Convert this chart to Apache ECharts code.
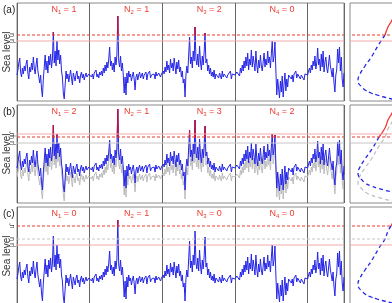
<!DOCTYPE html>
<html>
<head>
<meta charset="utf-8">
<script src="https://cdn.jsdelivr.net/npm/echarts@6/dist/echarts.min.js"></script>
<style>
html, body { margin: 0; padding: 0; background: #fff; }
#chart { width: 392px; height: 303px; }
</style>
</head>
<body>
<div id="chart"></div>
<script>
// sea level record (arbitrary units), 80 samples per year, 4.5 years
var seaLevel = [
    26, 31, 38, 43, 29, 24, 33, 27, 35, 30,
    37, 41, 28, 22, 34, 29, 38, 31, 44, 33,
    27, 36, 43, 30, 24, 18, 26, 12, 4, 22,
    34, 46, 31, 40, 28, 45, 36, 47, 33, 42,
    69, 38, 50, 35, 60, 41, 51, 37, 46, 30,
    24, 8, 2, 16, 30, 22, 27, 19, 25, 31,
    23, 16, 28, 24, 20, 27, 30, 22, 25, 18,
    26, 29, 23, 27, 21, 25, 28, 24, 22, 27,
    25, 29, 24, 27, 22, 28, 26, 31, 24, 27,
    23, 29, 26, 30, 25, 33, 28, 36, 30, 39,
    33, 42, 54, 35, 40, 31, 38, 29, 44, 36,
    46, 85, 40, 34, 45, 30, 38, 26, 8, 24,
    6, 28, 18, 30, 24, 27, 20, 25, 29, 22,
    11, 24, 27, 21, 26, 29, 23, 25, 28, 22,
    26, 24, 29, 21, 27, 25, 30, 23, 26, 28,
    24, 27, 22, 29, 25, 23, 28, 26, 24, 27,
    25, 30, 27, 34, 29, 40, 31, 36, 28, 42,
    33, 38, 30, 43, 35, 27, 39, 32, 41, 29,
    34, 24, 30, 18, 22, 4, 26, 35, 28, 46,
    64, 37, 44, 33, 50, 40, 74, 42, 36, 47,
    34, 55, 39, 31, 45, 36, 48, 68, 38, 42,
    30, 36, 27, 33, 25, 29, 24, 31, 22, 27,
    25, 29, 23, 28, 26, 22, 30, 24, 27, 25,
    29, 23, 26, 28, 24, 30, 22, 27, 25, 28,
    26, 24, 29, 27, 31, 25, 33, 28, 36, 30,
    40, 33, 44, 35, 48, 31, 42, 36, 51, 34,
    45, 38, 30, 50, 36, 28, 41, 33, 46, 35,
    30, 39, 48, 34, 42, 36, 50, 38, 44, 33,
    47, 60, 39, 45, 59, 30, 6, 22, 12, 3,
    20, 9, 25, 4, 17, 28, 10, 22, 14, 26,
    24, 28, 22, 26, 19, 27, 25, 30, 23, 27,
    25, 29, 22, 26, 24, 28, 21, 27, 25, 29,
    26, 30, 33, 28, 36, 31, 40, 35, 45, 32,
    38, 53, 36, 42, 30, 47, 34, 50, 29, 39,
    44, 33, 28, 37, 46, 35, 30, 24, 33, 18,
    9, 26, 31, 52, 38, 54, 30, 44, 22, 14,
    28
];
var samplesPerYear = 80;
var rise = 9;        // shift of the record in panel (b)
var mu = 60;         // mean level
var u = 66;          // threshold
var uHigh = 79;      // raised threshold, panel (c)

// distribution of sea level (side panels)
var densLevel = [100, 92, 85, 81, 79, 74, 66, 57, 45, 35, 27, 21, 17, 14, 11, 8, 6, 4, 2, 0];
var densValue = [0.006, 0.011, 0.015, 0.018, 0.019, 0.022, 0.025, 0.031, 0.038, 0.045,
                 0.050, 0.052, 0.051, 0.048, 0.045, 0.039, 0.033, 0.026, 0.018, 0.010];

var panelTags = ['(a)', '(b)', '(c)'];
var exceedCounts = [[1, 1, 2, 0], [2, 1, 3, 2], [0, 1, 0, 0]];

var blue = '#2525e8';
var peakRed = '#c4123a';
var threshRed = '#ec3b30';
var pink = '#f2a9a9';
var lightGray = '#c6c6c6';

var rowTop = [3, 105, 207];
var rowH = 98;

function level(v, color, dashed) {
    return { v: v, color: color, type: dashed ? [3, 2] : 'solid' };
}

var rows = [
    {
        shift: 0, thr: u, ghost: false,
        levels: [level(mu, pink, false), level(u, threshRed, true)],
        ticks: [[u, 'u'], [mu, 'μ']]
    },
    {
        shift: rise, thr: u, ghost: true,
        levels: [level(mu, lightGray, false), level(mu + rise, pink, false), level(u, threshRed, true)],
        ticks: [[mu + rise, "μ'"], [u, 'u'], [mu, 'μ']]
    },
    {
        shift: 0, thr: uHigh, ghost: false,
        levels: [level(mu, pink, false), level(u, lightGray, true), level(uHigh, threshRed, true)],
        ticks: [[uHigh, "u'"], [u, 'u'], [mu, 'μ']]
    }
];

// one flat line series per reference level
function levelSeries(lv, axisIdx, xMax) {
    return {
        type: 'line', xAxisIndex: axisIdx, yAxisIndex: axisIdx, showSymbol: false, silent: true, z: 6,
        lineStyle: { color: lv.color, width: 1, type: lv.type },
        itemStyle: { color: lv.color },
        data: [[0, lv.v], [xMax, lv.v]]
    };
}

function hiddenAxis(extra) {
    var a = { type: 'value', axisLine: { show: false }, axisTick: { show: false },
              axisLabel: { show: false }, splitLine: { show: false } };
    for (var k in extra) a[k] = extra[k];
    return a;
}

var grids = [], xAxes = [], yAxes = [], series = [], graphics = [];

rows.forEach(function(row, r) {
    var gl = grids.length, gr = gl + 1, gp = gl + 2;
    grids.push({ left: 17, top: rowTop[r], width: 327, height: rowH, show: true,
                 outerBoundsMode: 'none', borderColor: '#8a8a8a', borderWidth: 1 });
    grids.push({ left: 350, top: rowTop[r], width: 60, height: rowH, show: true,
                 outerBoundsMode: 'none', borderColor: '#8a8a8a', borderWidth: 1 });
    // upper slice of the left panel, above the threshold: peaks there are drawn red
    grids.push({ left: 17, top: rowTop[r], width: 327, height: rowH - row.thr, show: false,
                 outerBoundsMode: 'none' });

    xAxes.push({
        type: 'value', gridIndex: gl, min: 0, max: 4.5, interval: 1,
        axisLine: { show: false }, axisTick: { show: false }, axisLabel: { show: false },
        splitLine: { show: true, lineStyle: { color: '#666', width: 1 } }
    });
    xAxes.push(hiddenAxis({ gridIndex: gr, min: 0, max: 0.06, inverse: true }));
    xAxes.push(hiddenAxis({ gridIndex: gp, min: 0, max: 4.5 }));

    yAxes.push({
        type: 'value', gridIndex: gl, min: 0, max: rowH,
        name: 'Sea level', nameLocation: 'middle', nameGap: 5, nameRotate: 90,
        nameTextStyle: { fontSize: 10, color: '#333', fontFamily: 'Liberation Sans' },
        axisLine: { show: false }, axisTick: { show: false }, splitLine: { show: false },
        axisLabel: { show: false }
    });
    yAxes.push(hiddenAxis({ gridIndex: gr, min: 0, max: rowH }));
    yAxes.push(hiddenAxis({ gridIndex: gp, min: row.thr, max: rowH }));

    var record = seaLevel.map(function(v, i) { return [i / samplesPerYear, v + row.shift]; });

    if (row.ghost) {
        series.push({
            type: 'line', xAxisIndex: gl, yAxisIndex: gl, showSymbol: false, silent: true,
            lineStyle: { color: '#bbbbbb', width: 1 }, itemStyle: { color: '#bbbbbb' },
            data: seaLevel.map(function(v, i) { return [i / samplesPerYear, v]; })
        });
        series.push({
            type: 'line', xAxisIndex: gr, yAxisIndex: gr, showSymbol: false, silent: true, smooth: true,
            lineStyle: { color: '#bdbdbd', width: 1.2, type: [4, 3] }, itemStyle: { color: '#bdbdbd' },
            data: densLevel.map(function(l, i) { return [densValue[i], l]; })
        });
    }

    series.push({
        type: 'line', xAxisIndex: gl, yAxisIndex: gl, showSymbol: false, silent: true,
        lineStyle: { color: blue, width: 1 }, itemStyle: { color: blue },
        data: record
    });
    series.push({
        type: 'line', xAxisIndex: gp, yAxisIndex: gp, showSymbol: false, silent: true, clip: true,
        lineStyle: { color: peakRed, width: 1 }, itemStyle: { color: peakRed },
        data: record, z: 3
    });

    var curve = densLevel.map(function(l, i) { return [densValue[i], l + row.shift]; });
    series.push({
        type: 'line', xAxisIndex: gr, yAxisIndex: gr, showSymbol: false, silent: true, smooth: true,
        lineStyle: { color: blue, width: 1.3, type: [4, 3] }, itemStyle: { color: blue },
        data: curve.filter(function(p) { return p[1] <= row.thr; })
    });
    series.push({
        type: 'line', xAxisIndex: gr, yAxisIndex: gr, showSymbol: false, silent: true, smooth: true,
        lineStyle: { color: threshRed, width: 1.3 }, itemStyle: { color: threshRed },
        data: curve.filter(function(p) { return p[1] >= row.thr; })
    });

    row.levels.forEach(function(lv) {
        series.push(levelSeries(lv, gl, 4.5));
        series.push(levelSeries(lv, gr, 0.06));
    });

    graphics.push({
        type: 'text', left: 3, top: rowTop[r] + 2,
        style: { text: panelTags[r], fontSize: 10, fill: '#222', fontFamily: 'Liberation Sans' }
    });
    exceedCounts[r].forEach(function(n, k) {
        graphics.push({
            type: 'text', x: 17 + (k + 0.646) * 72.67, y: rowTop[r] + 7,
            style: {
                text: '{n|N}{s|' + (k + 1) + '}{n| = ' + n + '}',
                textAlign: 'center', textVerticalAlign: 'middle',
                fontFamily: 'Liberation Sans',
                rich: {
                    n: { fontSize: 9, fill: threshRed, fontFamily: 'Liberation Sans' },
                    s: { fontSize: 6, fill: threshRed, padding: [5, 0, 0, 0], fontFamily: 'Liberation Sans' }
                }
            }
        });
    });
});

var chart = echarts.init(document.getElementById('chart'));
chart.setOption({
    animation: false,
    grid: grids,
    xAxis: xAxes,
    yAxis: yAxes,
    series: series,
    graphic: graphics
});

// level labels beside the left axis, placed through the axis scale
rows.forEach(function(row, r) {
    row.ticks.forEach(function(t) {
        var p = chart.convertToPixel({ xAxisIndex: r * 3, yAxisIndex: r * 3 }, [0, t[0]]);
        graphics.push({
            type: 'text', x: p[0] - 1, y: p[1], rotation: Math.PI / 2,
            style: { text: t[1], fontSize: 7, fill: '#444', textAlign: 'center',
                     textVerticalAlign: 'bottom', fontFamily: 'Liberation Sans' }
        });
    });
});
chart.setOption({ graphic: graphics });
</script>
</body>
</html>
